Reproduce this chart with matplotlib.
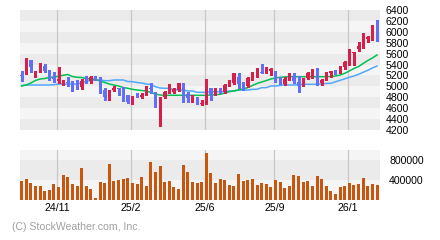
import matplotlib
matplotlib.use("Agg")
import matplotlib.pyplot as plt
from matplotlib.ticker import FixedLocator, NullLocator

plt.rcParams['font.family'] = ['Liberation Sans', 'DejaVu Sans']

# ---- data (weekly candles) ----
opens = [5208, 5240, 5483, 5190, 5325, 5373, 5282, 5165, 5098, 5056,
         5086, 5086, 5067, 4983, 5129, 5104, 5178, 5165, 4933, 4799,
         4933, 4976, 4958, 4842, 4719, 4833, 4812, 4884, 4952, 4860,
         4402, 4799, 4891, 4891, 4933, 5038, 4854, 4750, 4799, 4677,
         4719, 4964, 4860, 4946, 4902, 5025, 5056, 5178, 5067, 5007,
         5165, 5178, 5263, 5282, 5288, 5269, 5148, 5043, 5148, 5196,
         5086, 5025, 5148, 5178, 5300, 5056, 5135, 5251, 5282, 5258,
         5361, 5483, 5606, 5685, 5789, 5868, 5954, 6107]
highs = [5287, 5515, 5483, 5282, 5434, 5410, 5300, 5269, 5361, 5117,
         5165, 5090, 5117, 5129, 5190, 5190, 5190, 5178, 4964, 4933,
         5000, 4976, 4994, 4842, 4823, 4872, 4872, 5007, 5067, 4902,
         4811, 4920, 5043, 4964, 5067, 5056, 4902, 4842, 4811, 4750,
         5129, 4964, 4964, 4964, 5043, 5117, 5251, 5251, 5086, 5178,
         5269, 5331, 5410, 5349, 5331, 5287, 5178, 5178, 5251, 5239,
         5196, 5159, 5269, 5312, 5343, 5135, 5269, 5290, 5300, 5379,
         5465, 5685, 5630, 5819, 5972, 5929, 6125, 6217]
lows = [5104, 5221, 5269, 5178, 5269, 5258, 5117, 5086, 5062, 5025,
        5007, 4920, 4958, 4958, 5067, 5067, 5117, 4885, 4750, 4750,
        4920, 4842, 4732, 4689, 4677, 4799, 4781, 4842, 4884, 4627,
        4279, 4781, 4884, 4872, 4920, 4719, 4719, 4719, 4677, 4658,
        4677, 4750, 4842, 4872, 4884, 5007, 5038, 4964, 4933, 4994,
        5117, 5165, 5239, 5239, 5208, 5086, 5043, 5025, 5117, 5056,
        4902, 5013, 5135, 5159, 5025, 5025, 5117, 5178, 5221, 5239,
        5318, 5392, 5392, 5648, 5698, 5819, 5850, 5837]
closes = [5190, 5447, 5361, 5282, 5335, 5288, 5159, 5129, 5135, 5086,
          5067, 5043, 4976, 5104, 5098, 5165, 5159, 4933, 4799, 4872,
          4976, 4946, 4860, 4719, 4799, 4823, 4838, 4964, 4943, 4627,
          4750, 4902, 4920, 4946, 5056, 4799, 4781, 4823, 4689, 4701,
          4964, 4842, 4946, 4891, 5025, 5086, 5239, 5043, 5025, 5148,
          5251, 5300, 5251, 5300, 5312, 5117, 5067, 5129, 5196, 5098,
          5013, 5135, 5239, 5300, 5056, 5117, 5251, 5282, 5251, 5361,
          5453, 5624, 5624, 5746, 5862, 5911, 6112, 5942]
ma_short = [5007, 5025, 5062, 5108, 5135, 5144, 5163, 5172, 5186, 5203,
            5218, 5181, 5166, 5163, 5142, 5135, 5126, 5098, 5071, 5043,
            5025, 5007, 4979, 4965, 4946, 4933, 4924, 4915, 4888, 4860,
            4842, 4836, 4836, 4836, 4836, 4836, 4836, 4836, 4836, 4836,
            4836, 4842, 4847, 4855, 4875, 4902, 4917, 4935, 4955, 4977,
            5016, 5053, 5080, 5106, 5135, 5153, 5166, 5172, 5177, 5177,
            5177, 5177, 5177, 5177, 5177, 5177, 5177, 5181, 5190, 5208,
            5239, 5282, 5327, 5364, 5419, 5474, 5520, 5575]
ma_long = [5016, 5025, 5025, 5025, 5025, 5025, 5025, 5030, 5043, 5043,
           5043, 5043, 5043, 5062, 5095, 5110, 5117, 5117, 5104, 5104,
           5117, 5117, 5117, 5089, 5086, 5071, 5062, 5043, 5034, 4994,
           4970, 4965, 4965, 4943, 4933, 4933, 4915, 4915, 4891, 4891,
           4891, 4902, 4902, 4902, 4902, 4915, 4915, 4933, 4933, 4933,
           4946, 4946, 4976, 4976, 5007, 5007, 5016, 5030, 5025, 5025,
           5031, 5038, 5038, 5038, 5038, 5047, 5053, 5056, 5084, 5111,
           5138, 5166, 5190, 5221, 5258, 5294, 5337, 5373]
volumes = [387000, 420000, 340000, 280000, 280000, 187000, 200000, 320000, 260000, 500000,
           460000, 320000, 280000, 640000, 280000, 220000, 40000, 360000, 340000, 720000,
           380000, 400000, 420000, 440000, 340000, 320000, 460000, 280000, 760000, 560000,
           680000, 360000, 380000, 260000, 220000, 700000, 560000, 360000, 340000,
           360000, 940000, 540000, 340000, 420000, 400000, 300000, 280000, 520000, 380000,
           400000, 420000, 300000, 340000, 320000, 260000, 400000, 360000, 240000, 280000,
           500000, 480000, 360000, 380000, 280000, 480000, 420000, 280000, 180000, 120000,
           260000, 280000, 340000, 300000, 320000, 440000, 280000, 320000, 300000]
price_ticks = [4200, 4400, 4600, 4800, 5000, 5200, 5400, 5600, 5800, 6000, 6200, 6400]
vol_ticks = [400000, 800000]
date_labels = ["24/11", "25/2", "25/6", "25/9", "26/1"]
date_index = [7.75, 23.75, 39.75, 54.75, 70.75]

# ---- style ----
UP = "#d6204a"
DOWN = "#6070f8"
MA_S = "#00c050"
MA_L = "#50a8ff"
VOL = "#c8560e"
GRID = "#c8c8c8"
BAND_D = "#ebebeb"
BAND_L = "#f5f5f5"
FS = 7.6

n = len(opens)
xs = list(range(n))
xlo, xhi = -0.35, n - 0.35

fig = plt.figure(figsize=(4.4, 2.4), dpi=100)
fig.patch.set_facecolor("white")
axp = fig.add_axes([20 / 440, 110 / 240, 360 / 440, 120 / 240])
axv = fig.add_axes([20 / 440, 40 / 240, 360 / 440, 50 / 240])

for ax in (axp, axv):
    ax.set_xlim(xlo, xhi)
    for s in ax.spines.values():
        s.set_visible(False)
    ax.set_facecolor(BAND_L)
    for d in date_index:
        ax.axvline(d, color=GRID, lw=0.9, zorder=1)

# price bands
for k in range(len(price_ticks) - 1):
    top = price_ticks[-1 - k]
    bot = price_ticks[-2 - k]
    axp.axhspan(bot, top, color=BAND_D if k % 2 == 0 else BAND_L, lw=0, zorder=0)

axp.set_ylim(price_ticks[0], price_ticks[-1])

# MAs
axp.plot(xs, ma_long, color=MA_L, lw=1.1, zorder=2)
axp.plot(xs, ma_short, color=MA_S, lw=1.1, zorder=2)

# candles
bw = 0.62
for i in xs:
    o, h, l, c = opens[i], highs[i], lows[i], closes[i]
    col = UP if c >= o else DOWN
    axp.vlines(i, l, h, color=col, lw=0.9, zorder=3, antialiased=False)
    b = min(o, c)
    ht = max(abs(c - o), 18)
    axp.bar(i, ht, bottom=b, width=bw, color=col, lw=0, zorder=4, antialiased=False)

axp.yaxis.tick_right()
axp.yaxis.set_major_locator(FixedLocator(price_ticks))
axp.set_yticklabels([str(t) for t in price_ticks])
axp.tick_params(axis="y", length=0, pad=4.3, labelsize=FS, labelcolor="#000000")
axp.xaxis.set_major_locator(NullLocator())

# volume
axv.set_ylim(0, 1000000)
axv.axhspan(400000, 800000, color=BAND_D, lw=0, zorder=0)
axv.bar(xs, volumes, width=0.65, color=VOL, lw=0, zorder=3, antialiased=False)
axv.yaxis.tick_right()
axv.yaxis.set_major_locator(FixedLocator(vol_ticks))
axv.set_yticklabels([str(t) for t in vol_ticks])
axv.tick_params(axis="y", length=0, pad=6.5, labelsize=FS)
axv.xaxis.set_major_locator(FixedLocator(date_index))
axv.set_xticklabels(date_labels)
axv.tick_params(axis="x", length=0, pad=2.5, labelsize=FS)

fig.text(12 / 440, 1 - 227 / 240, "(C) StockWeather.com, Inc.", color="#a0a0a0",
         fontsize=FS, ha="left", va="center")

fig.savefig("out.png", dpi=100, facecolor="white")
